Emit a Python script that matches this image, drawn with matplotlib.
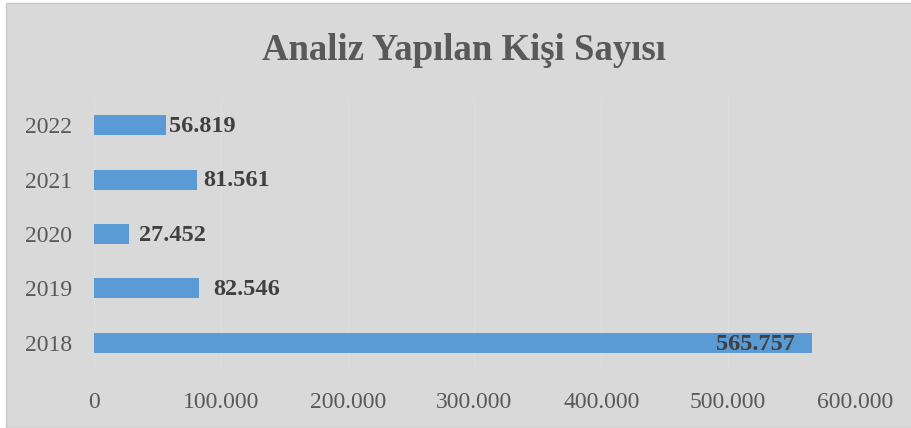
import matplotlib.pyplot as plt
from matplotlib.patches import Rectangle
from matplotlib.ticker import FuncFormatter

# veriler
yillar = ['2018', '2019', '2020', '2021', '2022']
kisi_sayisi = [565757, 82546, 27452, 81561, 56819]
# etiketlerin bar ucuna gore kaymasi (piksel)
etiket_kayma = [-17, 15, 10, 6, 3]

W, H = 911, 428
fig = plt.figure(figsize=(W / 100, H / 100), dpi=100, facecolor='white')
fig.patches.append(Rectangle((6 / W, 0), 1, (H - 3) / H, transform=fig.transFigure,
                             facecolor='#d9d9d9', edgecolor='#c8c8c8', lw=1, zorder=-5))

ax = fig.add_axes([94 / W, (H - 370) / H, (855 - 94) / W, (370 - 98) / H])
ax.set_facecolor('none')

serif = ['Liberation Serif', 'DejaVu Serif']
bars = ax.barh(yillar, kisi_sayisi, height=0.37, color='#5b9bd5', zorder=2)

def fmt(v, pos=None):
    return f'{int(v):,}'.replace(',', '.')

for b, v, dx in zip(bars, kisi_sayisi, etiket_kayma):
    ha = 'right' if dx < 0 else 'left'
    ax.annotate(fmt(v), (b.get_width(), b.get_y() + b.get_height() / 2),
                xytext=(dx * 0.72, -1), textcoords='offset points', ha=ha, va='center',
                fontsize=17.5, fontweight='bold', color='#404040', family=serif)

ax.set_xlim(0, 600000)
ax.set_ylim(-0.5, 4.5)
ax.set_xticks(range(0, 600001, 100000))
ax.xaxis.set_major_formatter(FuncFormatter(fmt))
ax.grid(axis='x', color='#dedede', lw=0.8, zorder=1)
ax.tick_params(length=0, labelsize=17, labelcolor='#595959')
ax.tick_params(axis='x', pad=16)
ax.tick_params(axis='y', pad=16)
for lab in ax.get_xticklabels() + ax.get_yticklabels():
    lab.set_family(serif)
for s in ax.spines.values():
    s.set_visible(False)

fig.text(464 / W, (H - 60) / H, 'Analiz Yapılan Kişi Sayısı', ha='center', va='baseline',
         fontsize=26.5, fontweight='bold', color='#595959', family=serif)

fig.savefig('out.png', dpi=100, facecolor='white')
